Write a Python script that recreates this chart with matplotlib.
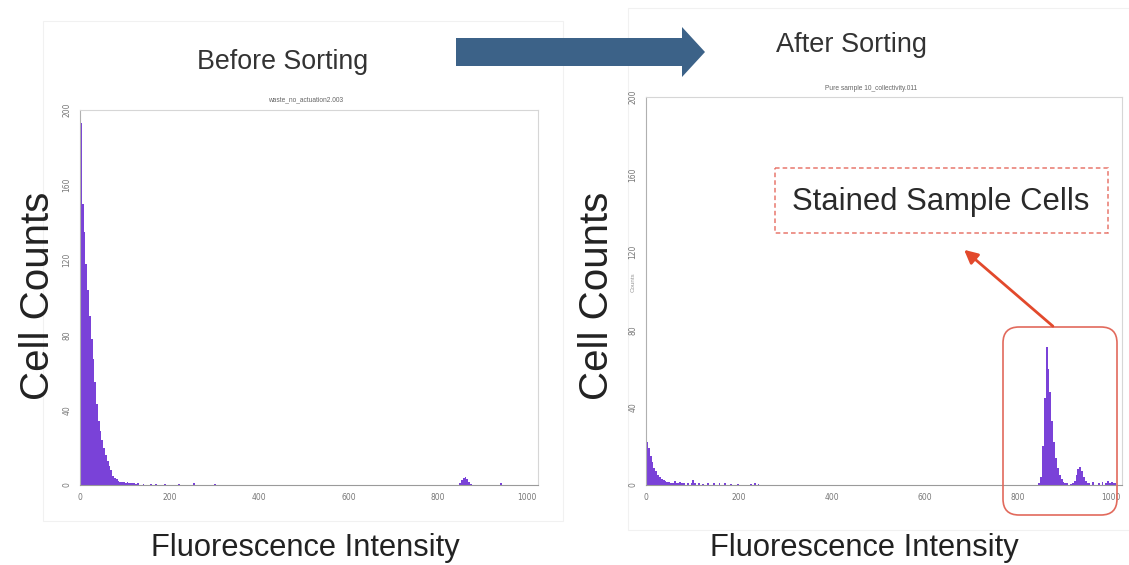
import numpy as np
import matplotlib
matplotlib.use("Agg")
import matplotlib.pyplot as plt
from matplotlib.patches import Polygon, Rectangle, FancyBboxPatch


# Histogram data (bin start, counts), bin width 4

bin_width = 4

before_bins = [0, 4, 8, 12, 16, 20, 24, 28, 32, 36, 40, 44, 48, 52, 56, 60,
               64, 68, 72, 76, 80, 84, 88, 92, 96, 100, 104, 108, 112, 116,
               120, 124, 128, 140, 156, 168, 188, 220, 252, 300,
               848, 852, 856, 860, 864, 868, 872, 940]
before_counts = [193, 150, 135, 118, 104, 90, 78, 67, 55, 43, 34, 29, 24, 20,
                 16, 13, 10, 8, 5, 4, 3, 2, 1.5, 1.5, 1.5, 1, 1.5, 1, 1, 1,
                 1, 0.5, 1, 0.5, 0.5, 0.5, 0.5, 0.5, 1, 0.5,
                 1, 2.5, 4, 4.5, 3, 1.5, 0.5, 1]

after_bins = [0, 4, 8, 12, 16, 20, 24, 28, 32, 36, 40, 44, 48, 52, 56, 60,
              64, 68, 72, 76, 80, 88, 96, 100, 104, 112, 120, 132, 144, 156,
              168, 180, 196, 224, 232, 240,
              844, 848, 852, 856, 860, 864, 868, 872, 876, 880, 884, 888, 892,
              896, 900, 904, 912, 916, 920, 924, 928, 932, 936, 940, 944, 948,
              952, 960, 972, 980, 988, 992, 996, 1000, 1004, 1008]
after_counts = [22, 19, 15, 12, 9, 7, 5, 4, 3, 2.5, 2, 1.5, 1.5, 1, 1, 2,
                1, 1, 1.5, 1, 1, 1, 1, 2.5, 1, 1, 0.5, 1, 1, 1,
                1, 0.5, 0.5, 0.5, 1, 0.5,
                1, 4, 20, 45, 71, 60, 48, 33, 22, 14, 9, 5, 3,
                1.5, 1, 1, 0.5, 1, 2, 5, 8, 9.5, 7, 4, 2, 1,
                1, 1.5, 1, 1.5, 1, 2, 1, 1.5, 1, 1]

x_ticks = [0, 200, 400, 600, 800, 1000]
y_ticks = [0, 40, 80, 120, 160, 200]

W, H = 1129, 565
purple = "#7a42d8"


def frac(x0, y0, w, h):
    # pixel box (top-left origin) -> figure fraction rect
    return [x0 / W, 1 - (y0 + h) / H, w / W, h / H]


def setup_hist(ax, bins, counts):
    ax.bar(bins, counts, width=bin_width, align="edge", color=purple,
           linewidth=0)
    ax.set_xlim(0, 1024)
    ax.set_ylim(0, 200)
    ax.set_xticks(x_ticks)
    ax.set_yticks(y_ticks)
    ax.tick_params(length=0, labelsize=5.5, labelcolor="#777777", pad=6)
    for lab in ax.get_yticklabels():
        lab.set_rotation(90)
        lab.set_va("center")
    for s in ax.spines.values():
        s.set_color("#d6d6d6")
        s.set_linewidth(0.8)
    ax.spines["bottom"].set_color("#9a9a9a")
    ax.spines["left"].set_color("#b0b0b0")


fig = plt.figure(figsize=(W / 100, H / 100), dpi=100)

# overlay in pixel coordinates for frames, arrows and labels
ov = fig.add_axes([0, 0, 1, 1], zorder=0)
ov.set_xlim(0, W)
ov.set_ylim(H, 0)
ov.axis("off")

# faint screenshot frames
frame = dict(fill=False, ec="#f1f1f1", lw=0.8)
ov.add_patch(Rectangle((43, 21), 520, 500, **frame))
ov.add_patch(Rectangle((628, 8), 520, 522, **frame))

ax1 = fig.add_axes(frac(80, 110, 458, 375), zorder=2)
setup_hist(ax1, before_bins, before_counts)
ax2 = fig.add_axes(frac(646, 97, 476, 388), zorder=2)
setup_hist(ax2, after_bins, after_counts)

top = fig.add_axes([0, 0, 1, 1], zorder=3)
top.set_xlim(0, W)
top.set_ylim(H, 0)
top.axis("off")

regular = ["Liberation Sans", "DejaVu Sans"]

top.text(283, 62, "Before Sorting", family=regular, fontsize=19.3,
         color="#333333", ha="center", va="center")
top.text(851, 45, "After Sorting", family=regular, fontsize=19.5,
         color="#333333", ha="center", va="center")
top.text(306, 100, "waste_no_actuation2.003", family=regular, fontsize=4.8,
         color="#666666", ha="center", va="center")
top.text(871, 88, "Pure sample 10_collectivity.011", family=regular,
         fontsize=4.8, color="#666666", ha="center", va="center")
top.text(633, 282, "Counts", family=regular, fontsize=4.5, color="#999999",
         rotation=90, ha="center", va="center")

for cx in (38, 597):
    top.text(cx, 296, "Cell Counts", family=regular, fontsize=29,
             color="#222222", rotation=90, ha="center", va="center")
for cx in (305, 864):
    top.text(cx, 556, "Fluorescence Intensity", family=regular, fontsize=22.2,
             color="#222222", ha="center", va="baseline")

# big blue arrow between panels
top.add_patch(Polygon([(456, 38), (682, 38), (682, 27), (705, 52),
                       (682, 77), (682, 66), (456, 66)],
                      closed=True, fc="#3c6288", ec="none"))

# annotation box, arrow and highlight around peak
top.add_patch(Rectangle((775, 168), 333, 65, fill=False, ec="#e8786e",
                        lw=1.1, ls=(0, (3, 2))))
top.text(941, 202, "Stained Sample Cells", family=regular, fontsize=22.3,
         color="#2a2a2a", ha="center", va="center")
top.annotate("", xy=(962, 248), xytext=(1055, 328),
             arrowprops=dict(arrowstyle="-|>", color="#e2492c", lw=2,
                             mutation_scale=20))
top.add_patch(FancyBboxPatch((1003, 327), 114, 188,
                             boxstyle="round,pad=0,rounding_size=16",
                             fill=False, ec="#e26a5c", lw=1.2))

plt.savefig("out.png", dpi=100)
